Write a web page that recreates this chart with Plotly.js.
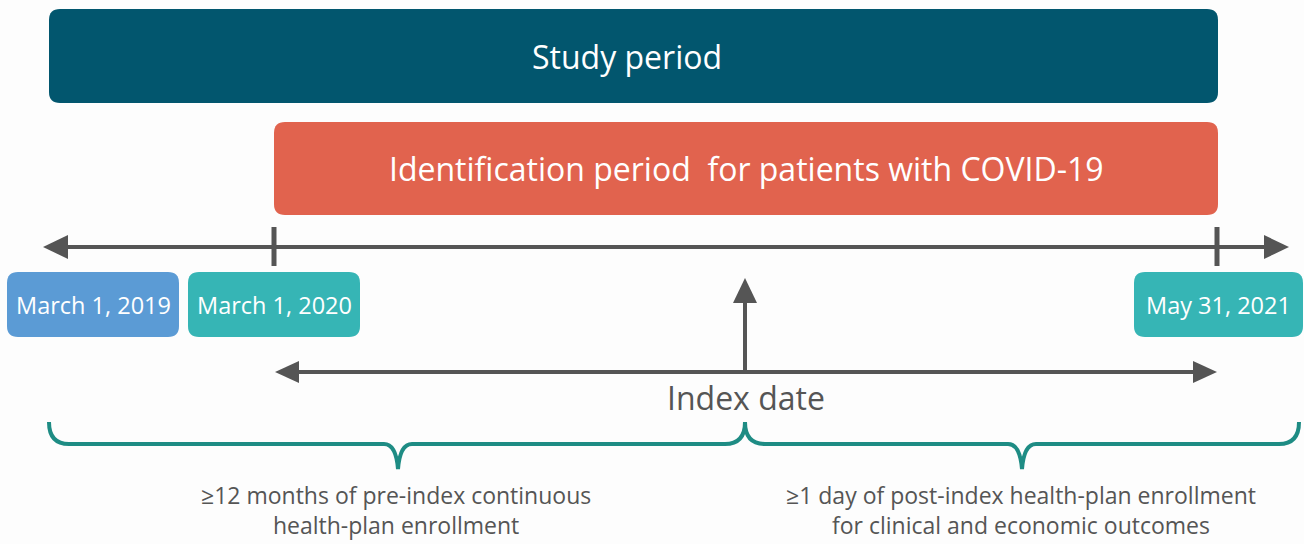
<!DOCTYPE html>
<html>
<head>
<meta charset="utf-8">
<script src="https://cdn.plot.ly/plotly-3.0.1.min.js"></script>
<style>html,body{margin:0;padding:0;background:#fdfdfd;}#chart{width:1304px;height:544px;}</style>
</head>
<body>
<div id="chart"></div>
<script>
// ---- content ----
const periodLabels = ["Study period", "Identification period  for patients with COVID-19"];
const dateLabels = ["March 1, 2019", "March 1, 2020", "May 31, 2021"];
const indexLabel = "Index date";
const braceLabels = [
  "≥12 months of pre-index continuous<br>health-plan enrollment",
  "≥1 day of post-index health-plan enrollment<br>for clinical and economic outcomes"
];

// ---- layout geometry (pixel coordinates of the diagram) ----
const periodBoxes = [
  {x0: 49, x1: 1218, y0: 9, y1: 103, color: "#02566e", tx: 627},
  {x0: 274, x1: 1218, y0: 122, y1: 215, color: "#e1634e", tx: 746}
];
const dateBoxes = [
  {x0: 7, x1: 179, y0: 272, y1: 337, color: "#5b9bd5"},
  {x0: 188, x1: 360, y0: 272, y1: 337, color: "#36b5b5"},
  {x0: 1134, x1: 1303, y0: 272, y1: 337, color: "#36b5b5"}
];
const gray = "#555555";
const teal = "#1e8c84";
const font = "Open Sans, Noto Sans, sans-serif";

function roundRect(b, r) {
  return `M${b.x0 + r},${b.y0} L${b.x1 - r},${b.y0} Q${b.x1},${b.y0} ${b.x1},${b.y0 + r} ` +
         `L${b.x1},${b.y1 - r} Q${b.x1},${b.y1} ${b.x1 - r},${b.y1} L${b.x0 + r},${b.y1} ` +
         `Q${b.x0},${b.y1} ${b.x0},${b.y1 - r} L${b.x0},${b.y0 + r} Q${b.x0},${b.y0} ${b.x0 + r},${b.y0} Z`;
}
function tri(points) {
  return "M" + points.map(p => p.join(",")).join(" L") + " Z";
}

const shapes = [];
const annotations = [];

periodBoxes.forEach((b, i) => {
  shapes.push({type: "path", path: roundRect(b, 11), fillcolor: b.color, line: {width: 0}, layer: "below"});
  annotations.push({x: b.tx, y: (b.y0 + b.y1) / 2, text: periodLabels[i], showarrow: false,
    font: {family: font, size: 32, color: "#ffffff"}, xanchor: "center", yanchor: "middle"});
});

// main timeline
const tlY = 247;
shapes.push({type: "line", x0: 62, x1: 1270, y0: tlY, y1: tlY, line: {color: gray, width: 4}});
shapes.push({type: "path", path: tri([[43, tlY], [68, tlY - 12], [68, tlY + 12]]), fillcolor: gray, line: {width: 0}});
shapes.push({type: "path", path: tri([[1289, tlY], [1264, tlY - 12], [1264, tlY + 12]]), fillcolor: gray, line: {width: 0}});
[274, 1217].forEach(x => {
  shapes.push({type: "line", x0: x, x1: x, y0: 227, y1: 266, line: {color: gray, width: 5}});
});

dateBoxes.forEach((b, i) => {
  shapes.push({type: "path", path: roundRect(b, 11), fillcolor: b.color, line: {width: 0}});
  annotations.push({x: (b.x0 + b.x1) / 2, y: (b.y0 + b.y1) / 2, text: dateLabels[i], showarrow: false,
    font: {family: font, size: 23.5, color: "#ffffff"}, xanchor: "center", yanchor: "middle"});
});

// index date arrows
const idxY = 372, idxX = 745;
shapes.push({type: "line", x0: 295, x1: 1198, y0: idxY, y1: idxY, line: {color: gray, width: 4}});
shapes.push({type: "path", path: tri([[275, idxY], [299, idxY - 11], [299, idxY + 11]]), fillcolor: gray, line: {width: 0}});
shapes.push({type: "path", path: tri([[1217, idxY], [1193, idxY - 11], [1193, idxY + 11]]), fillcolor: gray, line: {width: 0}});
shapes.push({type: "line", x0: idxX, x1: idxX, y0: idxY, y1: 300, line: {color: gray, width: 4}});
shapes.push({type: "path", path: tri([[idxX, 278], [idxX - 12, 303], [idxX + 12, 303]]), fillcolor: gray, line: {width: 0}});
annotations.push({x: idxX + 1, y: 397, text: indexLabel, showarrow: false,
  font: {family: font, size: 32, color: gray}, xanchor: "center", yanchor: "middle"});

// braces
function brace(xl, xr, xm, top, mid, bot) {
  const r = 20;
  return `M${xl},${top} Q${xl},${mid} ${xl + r},${mid} L${xm - 14},${mid} ` +
         `Q${xm - 2},${mid} ${xm},${bot} Q${xm + 2},${mid} ${xm + 14},${mid} ` +
         `L${xr - r},${mid} Q${xr},${mid} ${xr},${top}`;
}
shapes.push({type: "path", path: brace(49, 745, 398, 422, 444, 469), line: {color: teal, width: 4}});
shapes.push({type: "path", path: brace(745, 1299, 1022, 422, 444, 469), line: {color: teal, width: 4}});
annotations.push({x: 396, y: 510, text: braceLabels[0], showarrow: false,
  font: {family: font, size: 23, color: gray}, xanchor: "center", yanchor: "middle", align: "center"});
annotations.push({x: 1021, y: 510, text: braceLabels[1], showarrow: false,
  font: {family: font, size: 23, color: gray}, xanchor: "center", yanchor: "middle", align: "center"});

const layout = {
  width: 1304, height: 544,
  margin: {l: 0, r: 0, t: 0, b: 0},
  paper_bgcolor: "#fdfdfd", plot_bgcolor: "#fdfdfd",
  xaxis: {range: [0, 1304], visible: false, fixedrange: true},
  yaxis: {range: [544, 0], visible: false, fixedrange: true},
  showlegend: false,
  shapes: shapes,
  annotations: annotations
};
Plotly.newPlot("chart", [], layout, {staticPlot: true, displayModeBar: false});
</script>
</body>
</html>
